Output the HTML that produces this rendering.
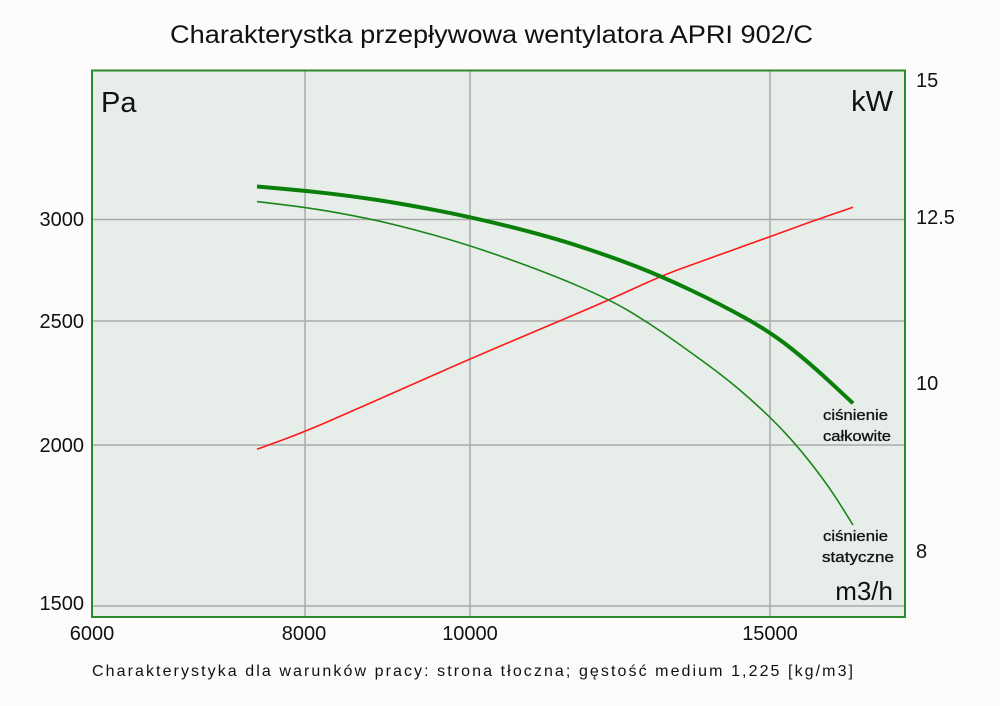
<!DOCTYPE html>
<html>
<head>
<meta charset="utf-8">
<style>
html,body{margin:0;padding:0;background:#fdfcfa;}
svg{display:block;}
text{font-family:"Liberation Sans",sans-serif;fill:#111;}
</style>
</head>
<body>
<svg width="1000" height="706" viewBox="0 0 1000 706" xmlns="http://www.w3.org/2000/svg">
<rect x="0" y="0" width="1000" height="706" fill="#fdfcfa"/>
<text x="170" y="43" font-size="25" textLength="643" lengthAdjust="spacingAndGlyphs">Charakterystka przepływowa wentylatora APRI 902/C</text>

<rect x="92" y="70.5" width="813" height="546.5" fill="#e7eee9"/>
<!-- grid -->
<g stroke="#a9aaa9" stroke-width="1.5" fill="none">
<line x1="305" y1="71" x2="305" y2="616"/>
<line x1="470" y1="71" x2="470" y2="616"/>
<line x1="770" y1="71" x2="770" y2="616"/>
<line x1="92" y1="219.5" x2="905" y2="219.5"/>
<line x1="92" y1="321" x2="905" y2="321"/>
<line x1="92" y1="445" x2="905" y2="445"/>
<line x1="92" y1="606" x2="905" y2="606"/>
</g>
<rect x="92" y="70.5" width="813" height="546.5" fill="none" stroke="#2b8a2b" stroke-width="2"/>

<!-- curves -->
<path fill="none" stroke="#ff1a1a" stroke-width="1.6" d="M257,449.3 L281,440.5 Q305,431.7 332.5,419.6 Q360,407.5 385,396.5 Q410,385.5 440,372.25 Q470,359 510,342 Q550,325 579.5,312.5 Q609,300 635,288 Q661,276 680.5,268.85 Q700,261.7 735,249.2 Q770,236.7 790,229.35 Q810,222 831.5,214.65 L853,207.3"/>
<path fill="none" stroke="#1a851a" stroke-width="1.6" d="M257,201.6 L281,204.45 Q305,207.3 327.5,211.05 Q350,214.8 375,220.2 Q400,225.6 435,235.4 Q470,245.2 510,259.5 Q550,273.8 579.5,286.55 Q609,299.3 627.5,310.15 Q646,321 664.5,333.85 Q683,346.7 706.5,363.85 Q730,381 750,398.85 Q770,416.7 785,432.85 Q800,449 815,468.5 Q830,488 841.5,506.5 L853,525"/>
<path fill="none" stroke="#0a800a" stroke-width="4" d="M257,186.5 L281,188.6 Q305,190.7 327.5,193.3 Q350,195.9 375,199.65 Q400,203.4 435,210.05 Q470,216.7 510,226.7 Q550,236.7 580,246.5 Q610,256.3 635.5,266.15 Q661,276 690.5,290 Q720,304 745,317.85 Q770,331.7 790,347.5 Q810,363.3 831.5,383.3 L853,403.3"/>

<!-- unit labels -->
<text x="101" y="112" font-size="29">Pa</text>
<text x="893" y="111" font-size="29" text-anchor="end">kW</text>
<text x="893" y="600" font-size="26" text-anchor="end">m3/h</text>

<!-- series labels -->
<g font-size="14.5" fill="#222" stroke="#222" stroke-width="0.35">
<text x="823" y="420" textLength="65" lengthAdjust="spacingAndGlyphs">ciśnienie</text>
<text x="823" y="441" textLength="68" lengthAdjust="spacingAndGlyphs">całkowite</text>
<text x="823" y="541" textLength="65" lengthAdjust="spacingAndGlyphs">ciśnienie</text>
<text x="822" y="562" textLength="72" lengthAdjust="spacingAndGlyphs">statyczne</text>
</g>

<!-- left ticks -->
<g font-size="20" text-anchor="end">
<text x="84" y="226">3000</text>
<text x="84" y="328">2500</text>
<text x="84" y="452">2000</text>
<text x="84" y="610">1500</text>
</g>
<!-- right ticks -->
<g font-size="20">
<text x="916" y="87">15</text>
<text x="916" y="224">12.5</text>
<text x="916" y="390">10</text>
<text x="916" y="558">8</text>
</g>
<!-- bottom ticks -->
<g font-size="20" text-anchor="middle">
<text x="92" y="640">6000</text>
<text x="304" y="640">8000</text>
<text x="470" y="640">10000</text>
<text x="770" y="640">15000</text>
</g>

<text x="92" y="676" font-size="16" textLength="761" lengthAdjust="spacing" fill="#222">Charakterystyka dla warunków pracy: strona tłoczna; gęstość medium 1,225 [kg/m3]</text>
</svg>
</body>
</html>
